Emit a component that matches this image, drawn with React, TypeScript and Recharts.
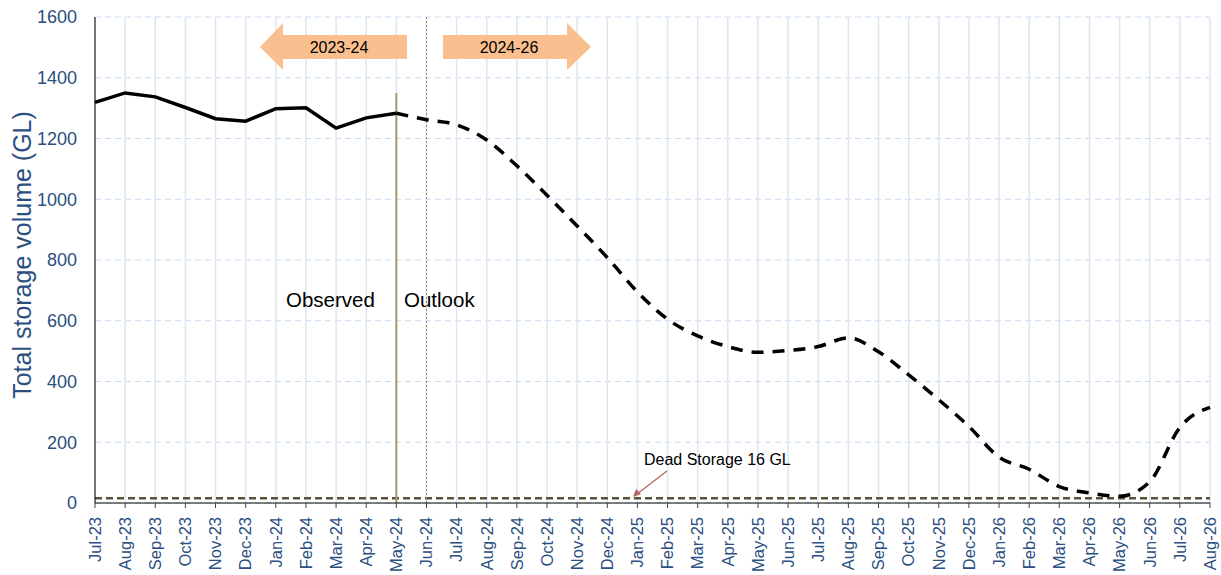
import React from "react";
import {
  CartesianGrid,
  Customized,
  Line,
  LineChart,
  ReferenceLine,
  XAxis,
  YAxis,
} from "recharts";

document.body.style.margin = "0";

const months = [
  "Jul-23", "Aug-23", "Sep-23", "Oct-23", "Nov-23", "Dec-23", "Jan-24", "Feb-24", "Mar-24", "Apr-24",
  "May-24", "Jun-24", "Jul-24", "Aug-24", "Sep-24", "Oct-24", "Nov-24", "Dec-24", "Jan-25", "Feb-25",
  "Mar-25", "Apr-25", "May-25", "Jun-25", "Jul-25", "Aug-25", "Sep-25", "Oct-25", "Nov-25", "Dec-25",
  "Jan-26", "Feb-26", "Mar-26", "Apr-26", "May-26", "Jun-26", "Jul-26", "Aug-26",
];

// Jul-23 .. May-24
const observed = [1319, 1350, 1337, 1302, 1265, 1257, 1298, 1301, 1234, 1268, 1283];

// May-24 .. Aug-26
const outlook = [
  1283, 1262, 1245, 1195, 1110, 1013, 912, 808, 695, 605, 550, 515, 496, 502, 515, 544,
  498, 422, 340, 252, 151, 111, 54, 33, 22, 70, 249, 315,
];

const yTicks = [0, 200, 400, 600, 800, 1000, 1200, 1400, 1600];
const deadStorage = 16;

const data = months.map((month, i) => ({
  month,
  observed: i < observed.length ? observed[i] : null,
  outlook: i >= observed.length - 1 ? outlook[i - (observed.length - 1)] : null,
}));

const blue = "#2B4F81";
const font = "'Liberation Sans', Arial, sans-serif";
const orange = "#F9BF8F";

function MonthTick({ x, y, payload }: any) {
  return (
    <text
      transform={`translate(${x},${y + 7}) rotate(-90)`}
      textAnchor="end"
      dy="0.35em"
      fill={blue}
      fontSize={16.5}
      fontFamily={font}
    >
      {payload.value}
    </text>
  );
}

function Annotations() {
  return (
    <g fontFamily={font}>
      <polygon points="260,47 283,23 283,35 407,35 407,59 283,59 283,70" fill={orange} />
      <text x={339} y={47} dy="0.35em" textAnchor="middle" fontSize={16} fill="#000">
        2023-24
      </text>
      <polygon points="591,47 567,23 567,35 443,35 443,59 567,59 567,70" fill={orange} />
      <text x={509} y={47} dy="0.35em" textAnchor="middle" fontSize={16} fill="#000">
        2024-26
      </text>
      <text x={286} y={300} dy="0.35em" fontSize={20.5} fill="#000">
        Observed
      </text>
      <text x={404} y={300} dy="0.35em" fontSize={20.5} fill="#000">
        Outlook
      </text>
      <text x={644} y={459} dy="0.35em" fontSize={16} fill="#000">
        Dead Storage 16 GL
      </text>
      <line x1={667} y1={471} x2={637} y2={494} stroke="#B5665E" strokeWidth={1.3} />
      <polygon points="633,497 636,489 641,494" fill="#B5665E" />
      <text
        transform="translate(22,255) rotate(-90)"
        textAnchor="middle"
        dy="0.35em"
        fontSize={25}
        fill={blue}
      >
        Total storage volume (GL)
      </text>
    </g>
  );
}

export default function App() {
  return (
    <LineChart
      width={1221}
      height={575}
      data={data}
      margin={{ top: 17, right: 11, bottom: 0, left: 0 }}
    >
      <CartesianGrid vertical={false} stroke="#C9DAF0" strokeDasharray="6 4" />
      <CartesianGrid horizontal={false} stroke="#DCE6F4" strokeWidth={1.5} />
      <XAxis
        dataKey="month"
        interval={0}
        height={72}
        tick={<MonthTick />}
        tickSize={5}
        axisLine={{ stroke: "#000" }}
        tickLine={{ stroke: "#444" }}
      />
      <YAxis
        width={95}
        domain={[0, 1600]}
        ticks={yTicks}
        tickLine={false}
        axisLine={{ stroke: "#000" }}
        tick={{ fill: blue, fontSize: 18, fontFamily: font }}
        tickMargin={12}
      />
      <ReferenceLine y={deadStorage} stroke="#5A5236" strokeWidth={2.5} strokeDasharray="7 4" />
      <ReferenceLine
        segment={[
          { x: "May-24", y: 0 },
          { x: "May-24", y: 1350 },
        ]}
        stroke="#A39A66"
        strokeWidth={2}
      />
      <ReferenceLine x="Jun-24" stroke="#948B5A" strokeWidth={1} strokeDasharray="2 2" />
      <Line
        dataKey="observed"
        type="linear"
        stroke="#000"
        strokeWidth={3.5}
        dot={false}
        connectNulls={false}
        isAnimationActive={false}
      />
      <Line
        dataKey="outlook"
        type="monotone"
        stroke="#000"
        strokeWidth={3.5}
        strokeDasharray="12 9"
        dot={false}
        isAnimationActive={false}
      />
      <Customized component={Annotations} />
    </LineChart>
  );
}
